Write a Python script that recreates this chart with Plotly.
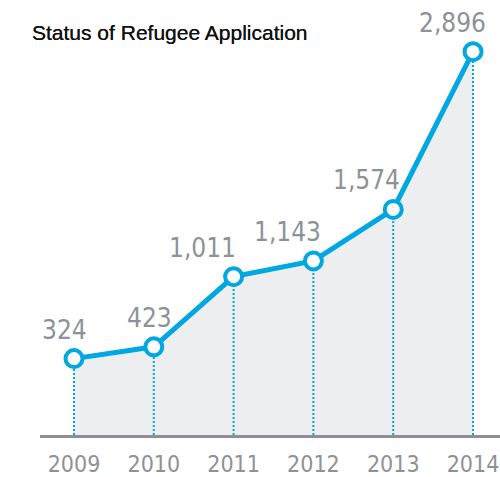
import plotly.graph_objects as go

# Refugee applications per year
years = [2009, 2010, 2011, 2012, 2013, 2014]
applications = [324, 423, 1011, 1143, 1574, 2896]
year_labels = ["2009", "2010", "2011", "2012", "2013", "2014"]
value_labels = ["324", "423", "1,011", "1,143", "1,574", "2,896"]

# horizontal nudge (px) of each value label relative to its point
label_dx = [-10, -4, -31, -26, -27, -21]

CYAN = "#00a7e1"
GREY_TEXT = "#8d9297"
AXIS_GREY = "#8b9094"
FILL = "#eceef0"
Y_MIN, Y_MAX = -316, 3329
X_MIN, X_MAX = 2008.574, 2014.338
NUM_FONT = "Liberation Sans Narrow, DejaVu Sans Condensed, sans-serif"

fig = go.Figure()

# invisible floor trace so the shaded area reaches the axis line
fig.add_trace(go.Scatter(
    x=years, y=[Y_MIN] * len(years), mode="lines",
    line=dict(width=0), hoverinfo="skip", showlegend=False,
))
fig.add_trace(go.Scatter(
    x=years, y=applications, mode="lines", fill="tonexty",
    fillcolor=FILL, line=dict(width=0), hoverinfo="skip", showlegend=False,
))

# dotted drop lines from each point down to the axis
drop_x, drop_y = [], []
for x, v in zip(years, applications):
    drop_x += [x, x, None]
    drop_y += [Y_MIN, v, None]
fig.add_trace(go.Scatter(
    x=drop_x, y=drop_y, mode="lines",
    line=dict(color=CYAN, width=2, dash="2px,2px"),
    hoverinfo="skip", showlegend=False,
))

# main line with hollow markers
fig.add_trace(go.Scatter(
    x=years, y=applications, mode="lines+markers",
    line=dict(color=CYAN, width=5),
    marker=dict(size=17, color="white", line=dict(color=CYAN, width=4)),
    hoverinfo="skip", showlegend=False, cliponaxis=False,
))

for x, v, txt, dx in zip(years, applications, value_labels, label_dx):
    fig.add_annotation(
        x=x, y=v, text=txt, showarrow=False,
        xanchor="center", yanchor="bottom", xshift=dx, yshift=12,
        font=dict(family=NUM_FONT, size=26, color=GREY_TEXT),
    )

fig.update_layout(
    width=500, height=477,
    margin=dict(l=40, r=0, t=0, b=39),
    paper_bgcolor="white", plot_bgcolor="white",
    title=dict(
        text="Status of Refugee Application",
        x=32 / 500, xref="container", xanchor="left",
        y=1 - 33 / 477, yref="container", yanchor="middle",
        font=dict(family="Liberation Sans, Arial, sans-serif", size=21, color="#111111",
                  shadow="0px 0px 0.6px #111111"),
    ),
    xaxis=dict(
        range=[X_MIN, X_MAX], tickmode="array", tickvals=years, ticktext=year_labels,
        showgrid=False, zeroline=False, showline=True, linecolor=AXIS_GREY, linewidth=3,
        ticks="", ticklabelstandoff=6,
        tickfont=dict(family=NUM_FONT, size=23, color=GREY_TEXT),
        fixedrange=True,
    ),
    yaxis=dict(
        range=[Y_MIN, Y_MAX], visible=False, showgrid=False, zeroline=False,
        fixedrange=True,
    ),
    hovermode=False,
)

fig.write_html("out.html")
